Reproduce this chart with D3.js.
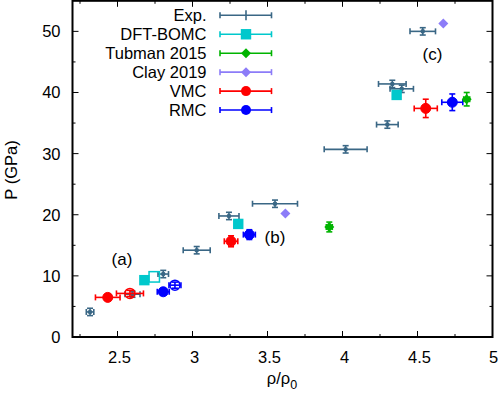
<!DOCTYPE html>
<html><head><meta charset="utf-8">
<script src="https://cdn.jsdelivr.net/npm/d3@7"></script>
<style>body{margin:0;background:#fff}svg{display:block}text{font-family:"Liberation Sans",Arial,sans-serif;fill:#000}</style>
</head><body><svg id="c" width="500" height="395"></svg>
<script>
// ---- data ----
const expX    = [2.317, 2.600, 2.805, 3.028, 3.243, 3.550, 4.021, 4.299, 4.332, 4.395, 4.535];
const expY    = [4.1, 7.0, 10.3, 14.2, 19.8, 21.8, 30.7, 34.75, 41.4, 40.6, 50.0];
const expXErr = [0.025, 0.05, 0.035, 0.09, 0.067, 0.15, 0.143, 0.072, 0.092, 0.078, 0.085];
const expYErr = [0.6, 0.5, 0.6, 0.6, 0.6, 0.6, 0.6, 0.6, 0.6, 0.6, 0.6];

const bomcX = [2.679, 3.305, 4.361];
const bomcY = [9.3, 18.5, 39.6];
const bomcOpenX = [2.745];
const bomcOpenY = [9.84];

const tubX = [3.912, 4.828];
const tubY = [18.0, 38.9];
const tubXErr = [0.02, 0.02];
const tubYErr = [0.8, 1.1];

const clayX = [3.619, 4.672];
const clayY = [20.2, 51.3];

const vmcX = [2.435, 3.257, 4.555];
const vmcY = [6.48, 15.66, 37.4];
const vmcXErr = [0.082, 0.045, 0.077];
const vmcYErr = [0.5, 0.9, 1.5];
const vmcOpenX = [2.583], vmcOpenY = [7.13], vmcOpenXErr = [0.09], vmcOpenYErr = [0.5];

const rmcX = [2.805, 3.379, 4.732];
const rmcY = [7.4, 16.75, 38.4];
const rmcXErr = [0.04, 0.04, 0.07];
const rmcYErr = [0.5, 0.8, 1.36];
const rmcOpenX = [2.883], rmcOpenY = [8.48], rmcOpenXErr = [0.04], rmcOpenYErr = [0.5];

const xTicks = [2.5, 3, 3.5, 4, 4.5, 5];
const xMinor = [2.25, 2.75, 3.25, 3.75, 4.25, 4.75];
const yTicks = [0, 10, 20, 30, 40, 50];
const yMinor = [5, 15, 25, 35, 45];
const legendNames = ["Exp.", "DFT-BOMC", "Tubman 2015", "Clay 2019", "VMC", "RMC"];
const annotations = [{t:"(a)", x:2.53, y:11.7}, {t:"(b)", x:3.55, y:15.4}, {t:"(c)", x:4.6, y:45.3}];

const C = {exp:"#3a6785", bomc:"#00c8cc", tub:"#00b400", clay:"#8c7cf8", vmc:"#ff0000", rmc:"#0000ff"};
const FS = 16.5;

// ---- scales ----
const L = 72.5, R = 492.5, T = 0.8, B = 337;
const x = d3.scaleLinear().domain([2.2, 5.0]).range([L, R]);
const y = d3.scaleLinear().domain([0, 55]).range([B, T]);
const svg = d3.select("#c");

// ---- frame & ticks ----
const g = svg.append("g");
function tickMarks(vals, len){
  vals.forEach(v=>{
    g.append("line").attr("x1",x(v)).attr("x2",x(v)).attr("y1",B).attr("y2",B-len).attr("stroke","#000").attr("stroke-width",1);
    g.append("line").attr("x1",x(v)).attr("x2",x(v)).attr("y1",T).attr("y2",T+len).attr("stroke","#000").attr("stroke-width",1);
  });
}
function yTickMarks(vals, len){
  vals.forEach(v=>{
    g.append("line").attr("y1",y(v)).attr("y2",y(v)).attr("x1",L).attr("x2",L+len).attr("stroke","#000").attr("stroke-width",1);
    g.append("line").attr("y1",y(v)).attr("y2",y(v)).attr("x1",R).attr("x2",R-len).attr("stroke","#000").attr("stroke-width",1);
  });
}
tickMarks(xTicks, 6); tickMarks(xMinor, 3);
yTickMarks(yTicks.slice(1), 6); yTickMarks(yMinor, 3);
g.append("rect").attr("x",L).attr("y",T).attr("width",R-L).attr("height",B-T).attr("fill","none").attr("stroke","#000").attr("stroke-width",2);

xTicks.forEach(v=>{
  svg.append("text").attr("x",x(v)+(v===5?1:2)).attr("y",363).attr("text-anchor","middle").attr("font-size",FS).text(v);
});
yTicks.forEach(v=>{
  svg.append("text").attr("x",60.5).attr("y",y(v)+6).attr("text-anchor","end").attr("font-size",FS).text(v);
});
// axis titles
const xt = svg.append("text").attr("x",282).attr("y",384).attr("text-anchor","middle").attr("font-size",FS);
xt.append("tspan").text("ρ/ρ");
xt.append("tspan").attr("font-size",12.5).attr("dy",5).text("0");
svg.append("text").attr("transform","translate(17,170) rotate(-90)").attr("text-anchor","middle").attr("font-size",FS).text("P (GPa)");

annotations.forEach(a=>{
  svg.append("text").attr("x",x(a.x)).attr("y",y(a.y)).attr("text-anchor","middle").attr("font-size",17).text(a.t);
});

// ---- marks ----
const pts = svg.append("g");
function errBars(px, py, hx, hy, color, cap, sw){
  if(hx>0){
    pts.append("line").attr("x1",px-hx).attr("x2",px+hx).attr("y1",py).attr("y2",py).attr("stroke",color).attr("stroke-width",sw);
    [px-hx, px+hx].forEach(e=>pts.append("line").attr("x1",e).attr("x2",e).attr("y1",py-cap).attr("y2",py+cap).attr("stroke",color).attr("stroke-width",sw));
  }
  if(hy>0){
    pts.append("line").attr("x1",px).attr("x2",px).attr("y1",py-hy).attr("y2",py+hy).attr("stroke",color).attr("stroke-width",sw);
    [py-hy, py+hy].forEach(e=>pts.append("line").attr("y1",e).attr("y2",e).attr("x1",px-cap).attr("x2",px+cap).attr("stroke",color).attr("stroke-width",sw));
  }
}
function marker(type, px, py, color, open){
  const fill = open ? "none" : color;
  if(type==="circle") pts.append("circle").attr("cx",px).attr("cy",py).attr("r",5).attr("fill",fill).attr("stroke",color).attr("stroke-width",open?1.5:1);
  if(type==="square") pts.append("rect").attr("x",px-5.2).attr("y",py-5.2).attr("width",10.4).attr("height",10.4).attr("fill",fill).attr("stroke",color).attr("stroke-width",open?1.5:0);
  if(type==="diamond") pts.append("path").attr("d",`M${px},${py-5}L${px+5},${py}L${px},${py+5}L${px-5},${py}Z`).attr("fill",fill);
  if(type==="dot") pts.append("circle").attr("cx",px).attr("cy",py).attr("r",2.3).attr("fill",color);
}
function series(xs, ys, xe, ye, type, color, open){
  xs.forEach((v,i)=>{
    const px = x(v), py = y(ys[i]);
    const hx = xe ? x(v+xe[i])-px : 0;
    const hy = ye ? py - y(ys[i]+ye[i]) : 0;
    if(open) marker(type, px, py, color, true);
    errBars(px, py, hx, hy, color, 3, 1.6);
    if(!open) marker(type, px, py, color, false);
  });
}
series(expX, expY, expXErr, expYErr, "dot", C.exp, false);
series(vmcX, vmcY, vmcXErr, vmcYErr, "circle", C.vmc, false);
series(vmcOpenX, vmcOpenY, vmcOpenXErr, vmcOpenYErr, "circle", C.vmc, true);
series(rmcX, rmcY, rmcXErr, rmcYErr, "circle", C.rmc, false);
series(rmcOpenX, rmcOpenY, rmcOpenXErr, rmcOpenYErr, "circle", C.rmc, true);
series(bomcX, bomcY, null, null, "square", C.bomc, false);
series(bomcOpenX, bomcOpenY, null, null, "square", C.bomc, true);
series(tubX, tubY, tubXErr, tubYErr, "diamond", C.tub, false);
series(clayX, clayY, null, null, "diamond", C.clay, false);

// ---- legend ----
const legColors = [C.exp, C.bomc, C.tub, C.clay, C.vmc, C.rmc];
const legTypes = ["tick", "square", "diamond", "diamond", "circle", "circle"];
const lg = svg.append("g");
legendNames.forEach((n,i)=>{
  const ly = 15.3 + i*18.95;
  lg.append("text").attr("x",206.5).attr("y",ly+6).attr("text-anchor","end").attr("font-size",FS).text(n);
  const c = legColors[i];
  lg.append("line").attr("x1",220).attr("x2",271.5).attr("y1",ly).attr("y2",ly).attr("stroke",c).attr("stroke-width",1.6);
  [220,271.5].forEach(e=>lg.append("line").attr("x1",e).attr("x2",e).attr("y1",ly-3).attr("y2",ly+3).attr("stroke",c).attr("stroke-width",1.6));
  const mx = 246;
  if(legTypes[i]==="tick") lg.append("line").attr("x1",mx).attr("x2",mx).attr("y1",ly-5).attr("y2",ly+5).attr("stroke",c).attr("stroke-width",1.6);
  if(legTypes[i]==="square") lg.append("rect").attr("x",mx-5.2).attr("y",ly-5.2).attr("width",10.4).attr("height",10.4).attr("fill",c);
  if(legTypes[i]==="diamond") lg.append("path").attr("d",`M${mx},${ly-5}L${mx+5},${ly}L${mx},${ly+5}L${mx-5},${ly}Z`).attr("fill",c);
  if(legTypes[i]==="circle") lg.append("circle").attr("cx",mx).attr("cy",ly).attr("r",5).attr("fill",c);
});
</script></body></html>
